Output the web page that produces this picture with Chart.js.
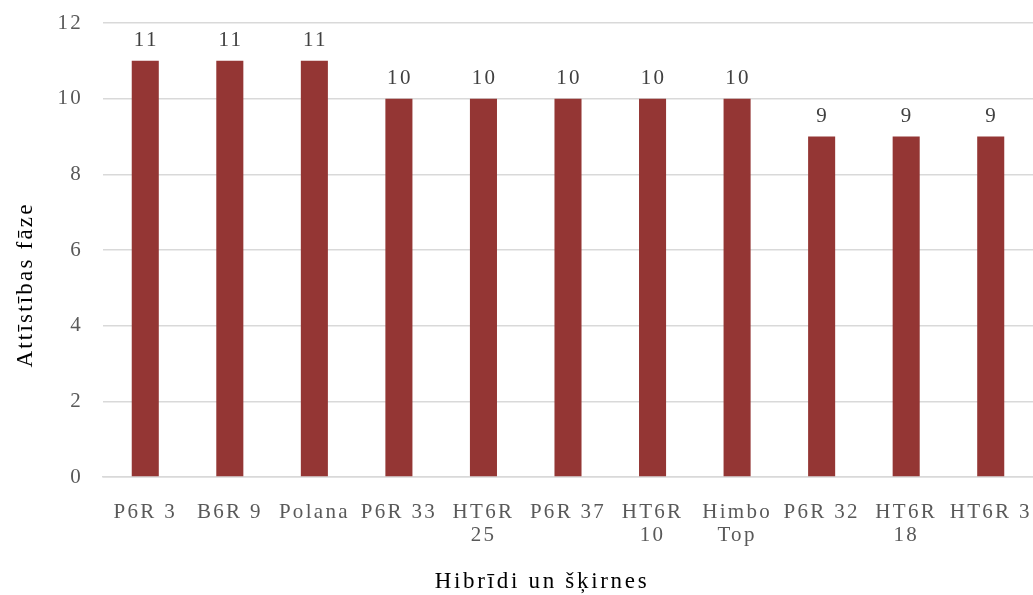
<!DOCTYPE html>
<html><head><meta charset="utf-8">
<script src="https://cdn.jsdelivr.net/npm/chart.js@4/dist/chart.umd.min.js"></script>
<style>html,body{margin:0;padding:0;background:#fff}#wrap{width:1033px;height:595px}</style>
</head><body><div id="wrap"><canvas id="c" width="1033" height="595"></canvas></div>
<script>
const categories = [["P6R 3"],["B6R 9"],["Polana"],["P6R 33"],["HT6R","25"],["P6R 37"],["HT6R","10"],["Himbo","Top"],["P6R 32"],["HT6R","18"],["HT6R 3"]];
const values = [11,11,11,10,10,10,10,10,9,9,9];
const yTicks = [0,2,4,6,8,10,12];
const xTitle = 'Hibrīdi un šķirnes';
const yTitle = 'Attīstības fāze';
const FONT = "'Liberation Serif','Times New Roman',serif";
const LS = '2.3px';

const spacing = {
  id:'spacing',
  beforeLayout(chart){ chart.ctx.letterSpacing = LS; },
  beforeDraw(chart){ chart.ctx.letterSpacing = LS; }
};

const extras = {
  id:'extras',
  afterDatasetsDraw(chart){
    const ctx = chart.ctx;
    const meta = chart.getDatasetMeta(0);
    ctx.save();
    ctx.letterSpacing = LS;
    ctx.font = "21px " + FONT;
    ctx.fillStyle = "#404040";
    ctx.textAlign = "center";
    ctx.textBaseline = "alphabetic";
    meta.data.forEach((bar,i)=>{
      ctx.fillText(String(values[i]), bar.x + 1, bar.y - 15);
    });
    ctx.restore();
  },
  afterDraw(chart){
    const ctx = chart.ctx;
    ctx.save();
    ctx.font = "23px " + FONT;
    ctx.fillStyle = "#000";
    ctx.textAlign = "center";
    ctx.textBaseline = "middle";
    ctx.letterSpacing = '2.7px';
    ctx.fillText(xTitle, 542, 582);
    ctx.letterSpacing = '2.2px';
    ctx.translate(26, 285);
    ctx.rotate(-Math.PI/2);
    ctx.fillText(yTitle, 0, 0);
    ctx.restore();
  }
};

function noPad(s){ s.paddingTop = 0; s.paddingBottom = 0; s.paddingLeft = 0; s.paddingRight = 0; }

new Chart(document.getElementById('c'), {
  type:'bar',
  data:{labels:categories, datasets:[{data:values, backgroundColor:'#943634', borderWidth:0, categoryPercentage:1, barPercentage:0.32}]},
  options:{
    responsive:false, animation:false,
    layout:{padding:{top:23,right:0,left:0,bottom:0}},
    plugins:{legend:{display:false}, tooltip:{enabled:false}},
    scales:{
      x:{
        grid:{display:false, drawTicks:false},
        border:{display:true,color:'#d9d9d9',width:1.5},
        ticks:{font:{family:FONT,size:21,lineHeight:1.1},color:'#595959',padding:24,maxRotation:0,autoSkip:false},
        afterFit(s){ s.height = 118; noPad(s); }
      },
      y:{
        min:0,max:12,
        afterBuildTicks(s){ s.ticks = yTicks.map(v=>({value:v})); },
        grid:{color:'#d9d9d9',lineWidth:1.5,drawTicks:false},
        border:{display:false},
        ticks:{font:{family:FONT,size:21},color:'#595959',padding:20},
        afterFit(s){ s.width = 103; noPad(s); }
      }
    }
  },
  plugins:[spacing, extras]
});
</script></body></html>
